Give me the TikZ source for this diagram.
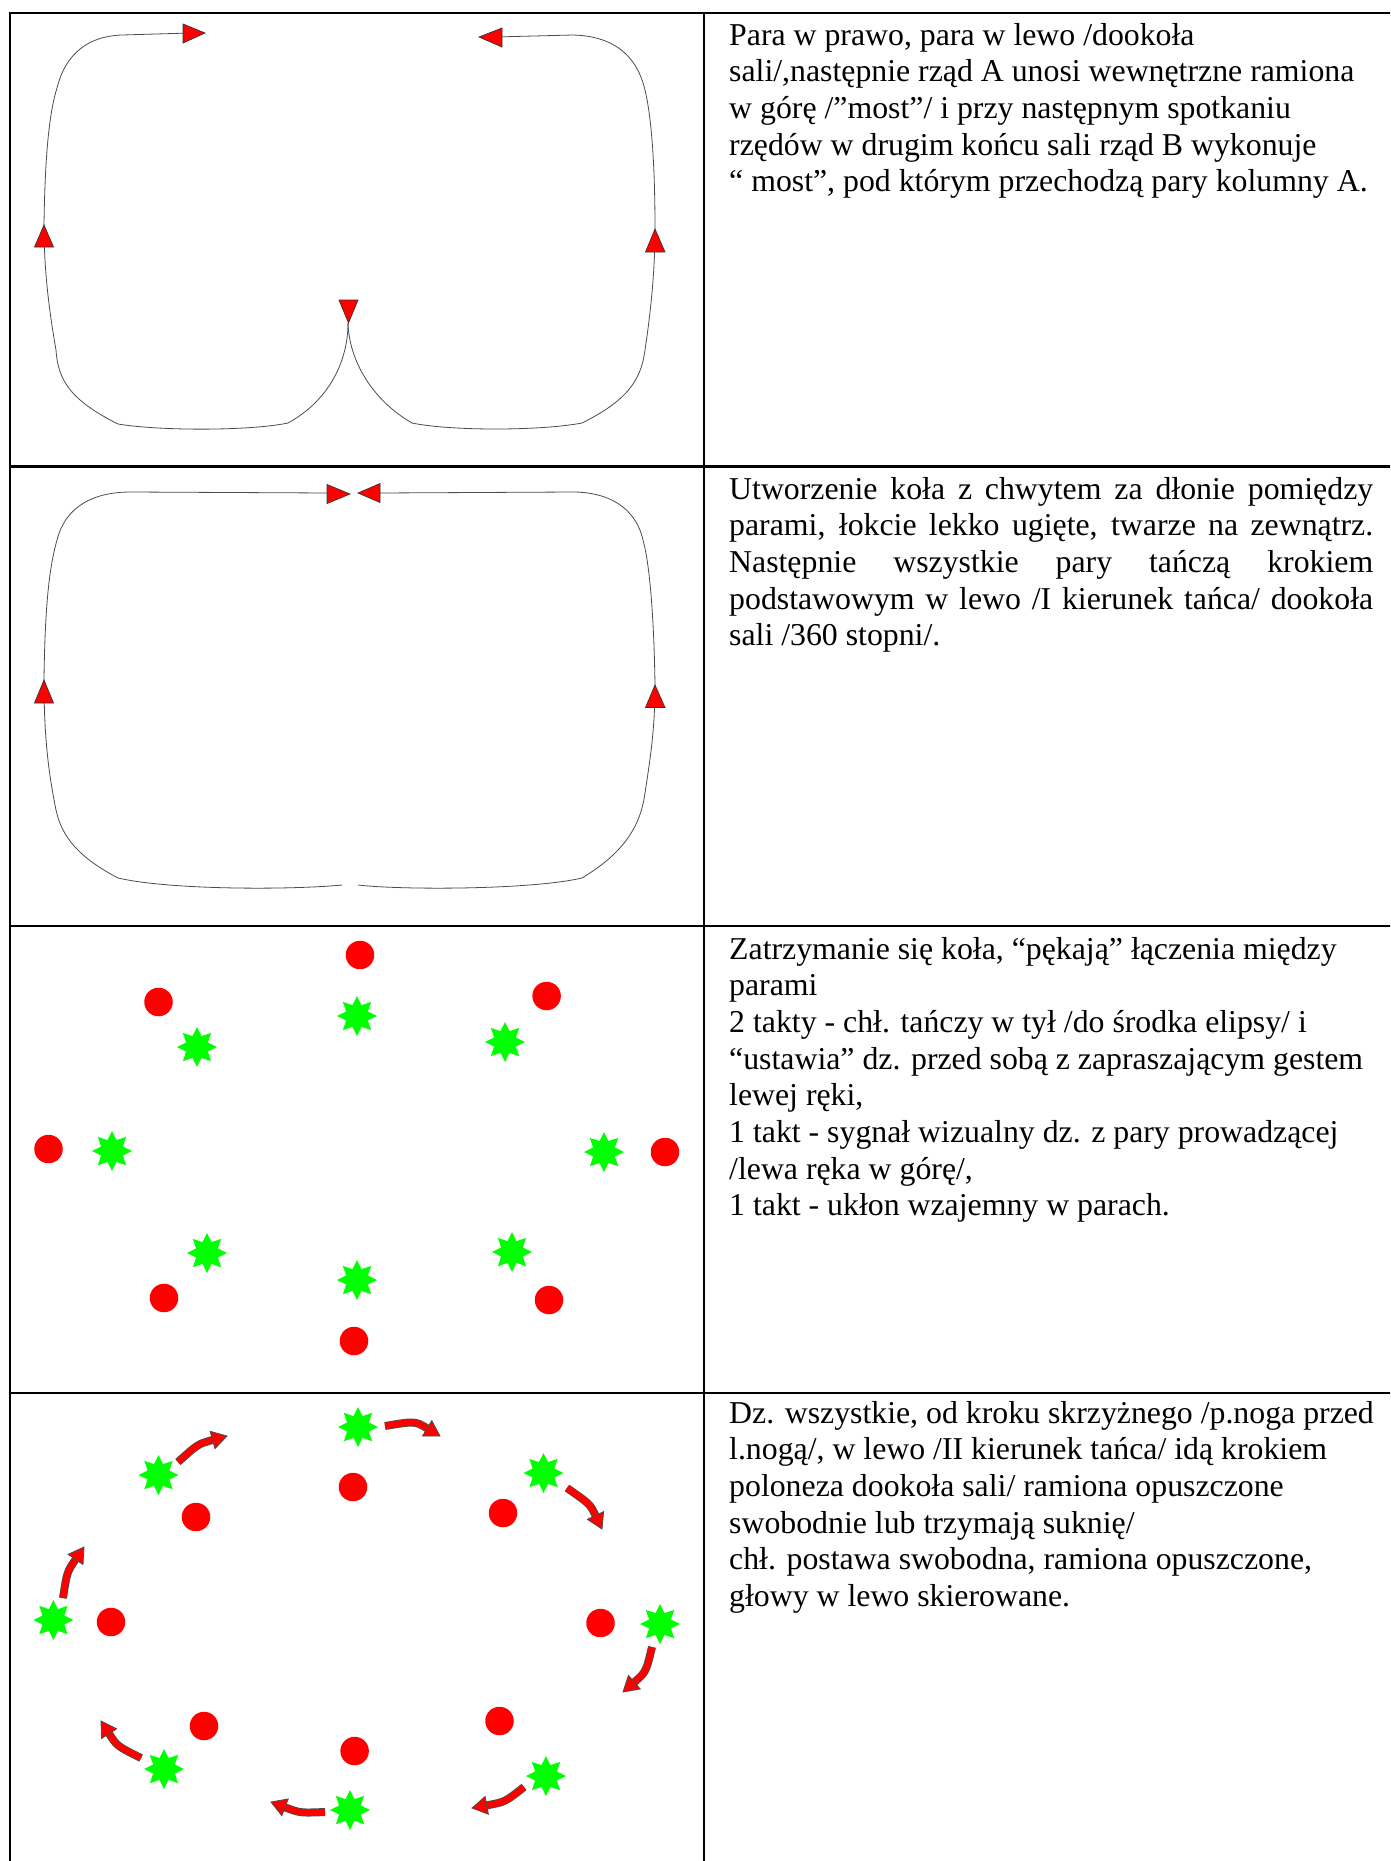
\documentclass[tikz,border=0pt]{standalone}
\usepackage{fontspec}
\setmainfont{Liberation Serif}
\usetikzlibrary{shapes.geometric,calc}
\definecolor{stargreen}{RGB}{0,255,0}
\definecolor{dotred}{RGB}{255,0,0}
\newcommand{\mycarrow}[3]{%
  \coordinate (cS) at #1;
  \coordinate (cC) at #2;
  \coordinate (cT) at #3;
  \coordinate (cB) at ($(cT)!15pt!(cC)$);
  \draw[line width=8pt, draw=black!70] (cS) .. controls (cC) .. (cB);
  \draw[line width=6.3pt, draw=dotred] (cS) .. controls (cC) .. (cB);
  \draw[headstyle] (cT) -- ($(cB)!9pt!90:(cT)$) -- ($(cB)!9pt!-90:(cT)$) -- cycle;
}
\begin{document}
\begin{tikzpicture}[x=1pt,y=-1pt,
  tableline/.style={line width=2.8pt, draw=black},
  pathline/.style={draw=black!70, line width=0.8pt},
  tri/.style={fill=dotred, draw=black!80, line width=0.7pt, line join=miter},
  headstyle/.style={fill=dotred, draw=black!70, line width=0.8pt, line join=miter},
  dot/.style={circle, fill=dotred, minimum size=28.5pt, inner sep=0pt},
  starshape/.style={star, star points=8, star point ratio=1.7, fill=stargreen, minimum size=40pt, inner sep=0pt},
  txt/.style={inner sep=0pt, anchor=base west, font=\fontsize{31.8pt}{36.7pt}\selectfont}
]
\useasboundingbox (0,0) rectangle (1390,1861);
\fill[white] (0,0) rectangle (1390,1861);
\begin{scope}
\clip (0,0) rectangle (1390,1861);

% table
\draw[tableline] (10,1880) -- (10,13) -- (1400,13);
\draw[tableline] (704,13) -- (704,1880);
\draw[tableline] (10,466.5) -- (1400,466.5);
\draw[tableline] (10,926) -- (1400,926);
\draw[tableline] (10,1393) -- (1400,1393);

% ---------- row 1 ----------
\draw[pathline] (348,323) .. controls (348,360) and (330,400) .. (288,423)
  .. controls (250,431) and (160,431) .. (118,424)
  .. controls (70,400) and (58,380) .. (56,350)
  .. controls (49,310) and (44,270) .. (44,225)
  .. controls (45,150) and (50,110) .. (57,88)
  .. controls (66,52) and (90,36) .. (122,35) -- (190,33);
\draw[pathline] (348,323) .. controls (349,360) and (372,400) .. (412,423)
  .. controls (450,431) and (540,431) .. (582,423)
  .. controls (628,400) and (641,380) .. (645,350)
  .. controls (651,310) and (655,270) .. (655,229)
  .. controls (655,160) and (651,115) .. (645,90)
  .. controls (636,52) and (610,36) .. (573,35) -- (495,37);
\draw[tri] (44,225) -- (34.5,247) -- (53.5,247) -- cycle;
\draw[tri] (655,229) -- (645.5,252) -- (665,252) -- cycle;
\draw[tri] (205,33) -- (183,24) -- (183,43) -- cycle;
\draw[tri] (479,37) -- (502,28) -- (502,47) -- cycle;
\draw[tri] (348.5,323) -- (339,300) -- (358,300) -- cycle;

\node[txt] (t1) at (729,45) {\parbox[t]{665pt}{\raggedright
Para w prawo, para w lewo /dookoła\\
sali/,następnie rząd A unosi wewnętrzne ramiona\\
w górę /”most”/ i przy następnym spotkaniu\\
rzędów w drugim końcu sali rząd B wykonuje\\
“ most”, pod którym przechodzą pary kolumny A.}};

% ---------- row 2 ----------
\draw[pathline] (342,885) .. controls (290,890) and (170,890) .. (118,878)
  .. controls (80,858) and (62,838) .. (56,810)
  .. controls (49,775) and (44,740) .. (44,680)
  .. controls (45,600) and (50,565) .. (57,540)
  .. controls (66,505) and (95,492) .. (131,492) -- (330,493);
\draw[pathline] (358,885) .. controls (400,890) and (530,890) .. (582,878)
  .. controls (620,855) and (640,830) .. (645,793)
  .. controls (650,760) and (655,730) .. (655,685)
  .. controls (654,620) and (650,565) .. (643,540)
  .. controls (635,505) and (605,492) .. (573,492) -- (378,493);
\draw[tri] (350,494) -- (327,484.5) -- (327,503.5) -- cycle;
\draw[tri] (358,493) -- (380,483.5) -- (380,502.5) -- cycle;
\draw[tri] (44,680) -- (34.5,703) -- (53.5,703) -- cycle;
\draw[tri] (655,685) -- (645.5,707.5) -- (665,707.5) -- cycle;

\node[txt] (t2) at (729,499) {\parbox[t]{644pt}{\tolerance=10000\hyphenpenalty=10000
Utworzenie koła z chwytem za dłonie pomiędzy\linebreak
parami, łokcie lekko ugięte, twarze na zewnątrz.\linebreak
Następnie wszystkie pary tańczą krokiem\linebreak
podstawowym w lewo /I kierunek tańca/ dookoła\linebreak
sali /360 stopni/.}};

% ---------- row 3 ----------
\foreach \p [count=\i] in {{360,955},{158.5,1002},{546.6,996},{48.5,1149},{665,1152},{164,1298},{549,1300},{354,1341}}
  \node[dot] (rc\i) at (\p) {};
\foreach \p [count=\i] in {{357,1016},{197,1047},{505,1042},{112,1151},{604,1152},{207,1253},{512,1252},{357,1280}}
  \node[starshape] (gc\i) at (\p) {};

\node[txt] (t3) at (729,959) {\parbox[t]{665pt}{\raggedright
Zatrzymanie się koła, “pękają” łączenia między\\
parami\\
2 takty - chł. tańczy w tył /do środka elipsy/ i\\
“ustawia” dz. przed sobą z zapraszającym gestem\\
lewej ręki,\\
1 takt - sygnał wizualny dz. z pary prowadzącej\\
/lewa ręka w górę/,\\
1 takt - ukłon wzajemny w parach.}};

% ---------- row 4 ----------
\foreach \p [count=\i] in {{353,1487},{196,1517},{503,1513},{111,1622},{600.5,1623},{204,1726},{499.5,1721},{354.6,1751}}
  \node[dot] (rd\i) at (\p) {};
\foreach \p [count=\i] in {{358,1427},{158.5,1475},{543.5,1473},{53.4,1620},{660,1624},{164,1769},{546,1776},{350,1810}}
  \node[starshape] (gd\i) at (\p) {};

\mycarrow{(385,1426)}{(415,1421)}{(440,1436)}
\mycarrow{(567,1488)}{(590,1504)}{(602,1529)}
\mycarrow{(652,1647)}{(646,1672)}{(623,1692)}
\mycarrow{(524,1787)}{(505,1802)}{(472,1808)}
\mycarrow{(325,1812)}{(300,1813)}{(271,1802)}
\mycarrow{(141,1758)}{(117,1746)}{(101,1721)}
\mycarrow{(63,1598)}{(67,1572)}{(84,1547)}
\mycarrow{(178,1462)}{(198,1444)}{(227,1436)}

\node[txt] (t4) at (729,1423) {\parbox[t]{665pt}{\raggedright
Dz. wszystkie, od kroku skrzyżnego /p.noga przed\\
l.nogą/, w lewo /II kierunek tańca/ idą krokiem\\
poloneza dookoła sali/ ramiona opuszczone\\
swobodnie lub trzymają suknię/\\
chł. postawa swobodna, ramiona opuszczone,\\
głowy w lewo skierowane.}};
\end{scope}
\end{tikzpicture}
\end{document}
